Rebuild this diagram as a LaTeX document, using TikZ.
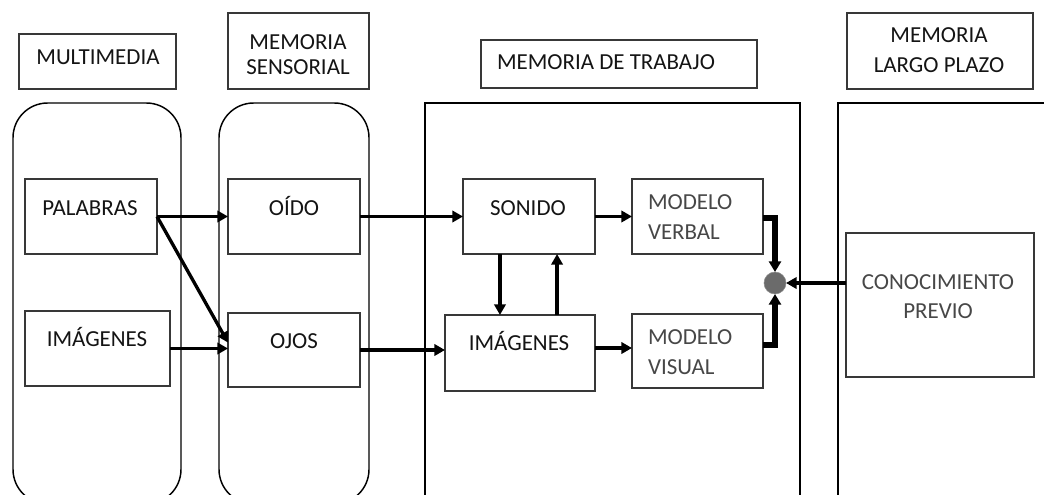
\documentclass[tikz,border=0pt]{standalone}
\usepackage{fontspec}
\setmainfont{Carlito}
\usetikzlibrary{arrows.meta,fit,calc}
\begin{document}
\begin{tikzpicture}[x=0.75pt,y=-0.75pt,
  every node/.style={font=\fontsize{17.2}{20}\selectfont, inner sep=0pt, outer sep=0pt},
  box/.style={draw=black!78, line width=0.8pt},
  frame/.style={draw=black, line width=1.1pt},
  lbl/.style={text=black!92, align=center},
  dim/.style={text=black!72, align=left},
  arr/.style={line width=2.5pt, -{Triangle[length=8pt,width=8.5pt]}},
  fat/.style={line width=3.9pt, -{Triangle[length=8pt,width=9pt]}}]
\useasboundingbox (0,0) rectangle (1044,495);
\clip (0,0) rectangle (1044,495);
\fill[white] (0,0) rectangle (1044,495);

% column headings
\node[box, fit={(19,34) (176,89)}] (h1) {};
\node[lbl, anchor=base] (h1t) at (98,65) {MULTIMEDIA};
\node[box, fit={(228,13) (369,89)}] (h2) {};
\node[lbl, font=\fontsize{17.2}{18.75}\selectfont] (h2t) at (298,54.5) {MEMORIA\\SENSORIAL};
\node[box, fit={(481,40) (757,88)}] (h3) {};
\node[lbl, anchor=base west] (h3t) at (497,70) {MEMORIA DE TRABAJO};
\node[box, fit={(847,13) (1033,89)}] (h4) {};
\node[lbl, font=\fontsize{17.2}{22.5}\selectfont] (h4t) at (939,50.5) {MEMORIA\\LARGO PLAZO};

% column frames (running past the lower edge)
\node[frame, rounded corners=26pt, fit={(13,103) (181,504)}] (c1) {};
\node[frame, rounded corners=26pt, fit={(219,103) (369,504)}] (c2) {};
\node[frame, fit={(425,103) (800,540)}] (c3) {};
\node[frame, fit={(838,103) (1080,540)}] (c4) {};

% multimedia
\node[box, fit={(25,179) (157,254)}] (pal) {};
\node[lbl, anchor=base] (palt) at (90,215) {PALABRAS};
\node[box, fit={(25,311) (170,386)}] (img) {};
\node[lbl, anchor=base] (imgt) at (97,346) {IMÁGENES};

% sensory memory
\node[box, fit={(228,179) (360,254)}] (oido) {};
\node[lbl, anchor=base] (oidot) at (294,215) {OÍDO};
\node[box, fit={(228,313) (360,387)}] (ojos) {};
\node[lbl, anchor=base] (ojost) at (294,348) {OJOS};

% working memory
\node[box, fit={(463,179) (595,254)}] (son) {};
\node[lbl, anchor=base] (sont) at (528,215) {SONIDO};
\node[box, fit={(445,315) (595,391)}] (wimg) {};
\node[lbl, anchor=base] (wimgt) at (519,350) {IMÁGENES};
\node[box, fit={(632,179) (763,254)}] (mverb) {};
\node[dim, anchor=west, font=\fontsize{17.2}{22.5}\selectfont] (mverbt) at (648,217) {MODELO\\VERBAL};
\node[box, fit={(632,314) (763,388)}] (mvis) {};
\node[dim, anchor=west, font=\fontsize{17.2}{22.5}\selectfont] (mvist) at (648,352) {MODELO\\VISUAL};
\node[circle, fill=black!58, draw=black!45, line width=0.4pt, minimum size=16.5pt] (dot) at (775,283) {};

% long-term memory
\node[box, fit={(846,233) (1034,377)}] (con) {};
\node[dim, align=center, font=\fontsize{17.2}{21.75}\selectfont] (cont) at (938,296.5) {CONOCIMIENTO\\PREVIO};

% connectors
\draw[arr] (pal.east) -- (oido.west);
\draw[arr] (pal.east) -- ($(ojos.north west)!0.4!(ojos.south west)$);
\draw[arr] (img.east) -- (img.east -| ojos.west);
\draw[arr] (oido.east) -- (son.west);
\draw[arr] (ojos.east) -- (ojos.east -| wimg.west);
\draw[arr] ($(son.south west)!0.28!(son.south east)$) coordinate (dn)
  -- (dn |- wimg.north);
\draw[arr] ($(wimg.north west)!0.747!(wimg.north east)$) coordinate (up)
  -- (up |- son.south);
\draw[arr] (son.east) -- (mverb.west);
\draw[arr] ($(wimg.east)+(0,-5)$) coordinate (wo) -- (wo -| mvis.west);
\draw[fat] ($(mverb.east)+(0,1.5)$) -| (dot.north);
\draw[fat] ($(mvis.east)+(0,-6)$) -| (dot.south);
\draw[arr] (con.west |- dot.east) -- (dot.east);
\end{tikzpicture}
\end{document}
